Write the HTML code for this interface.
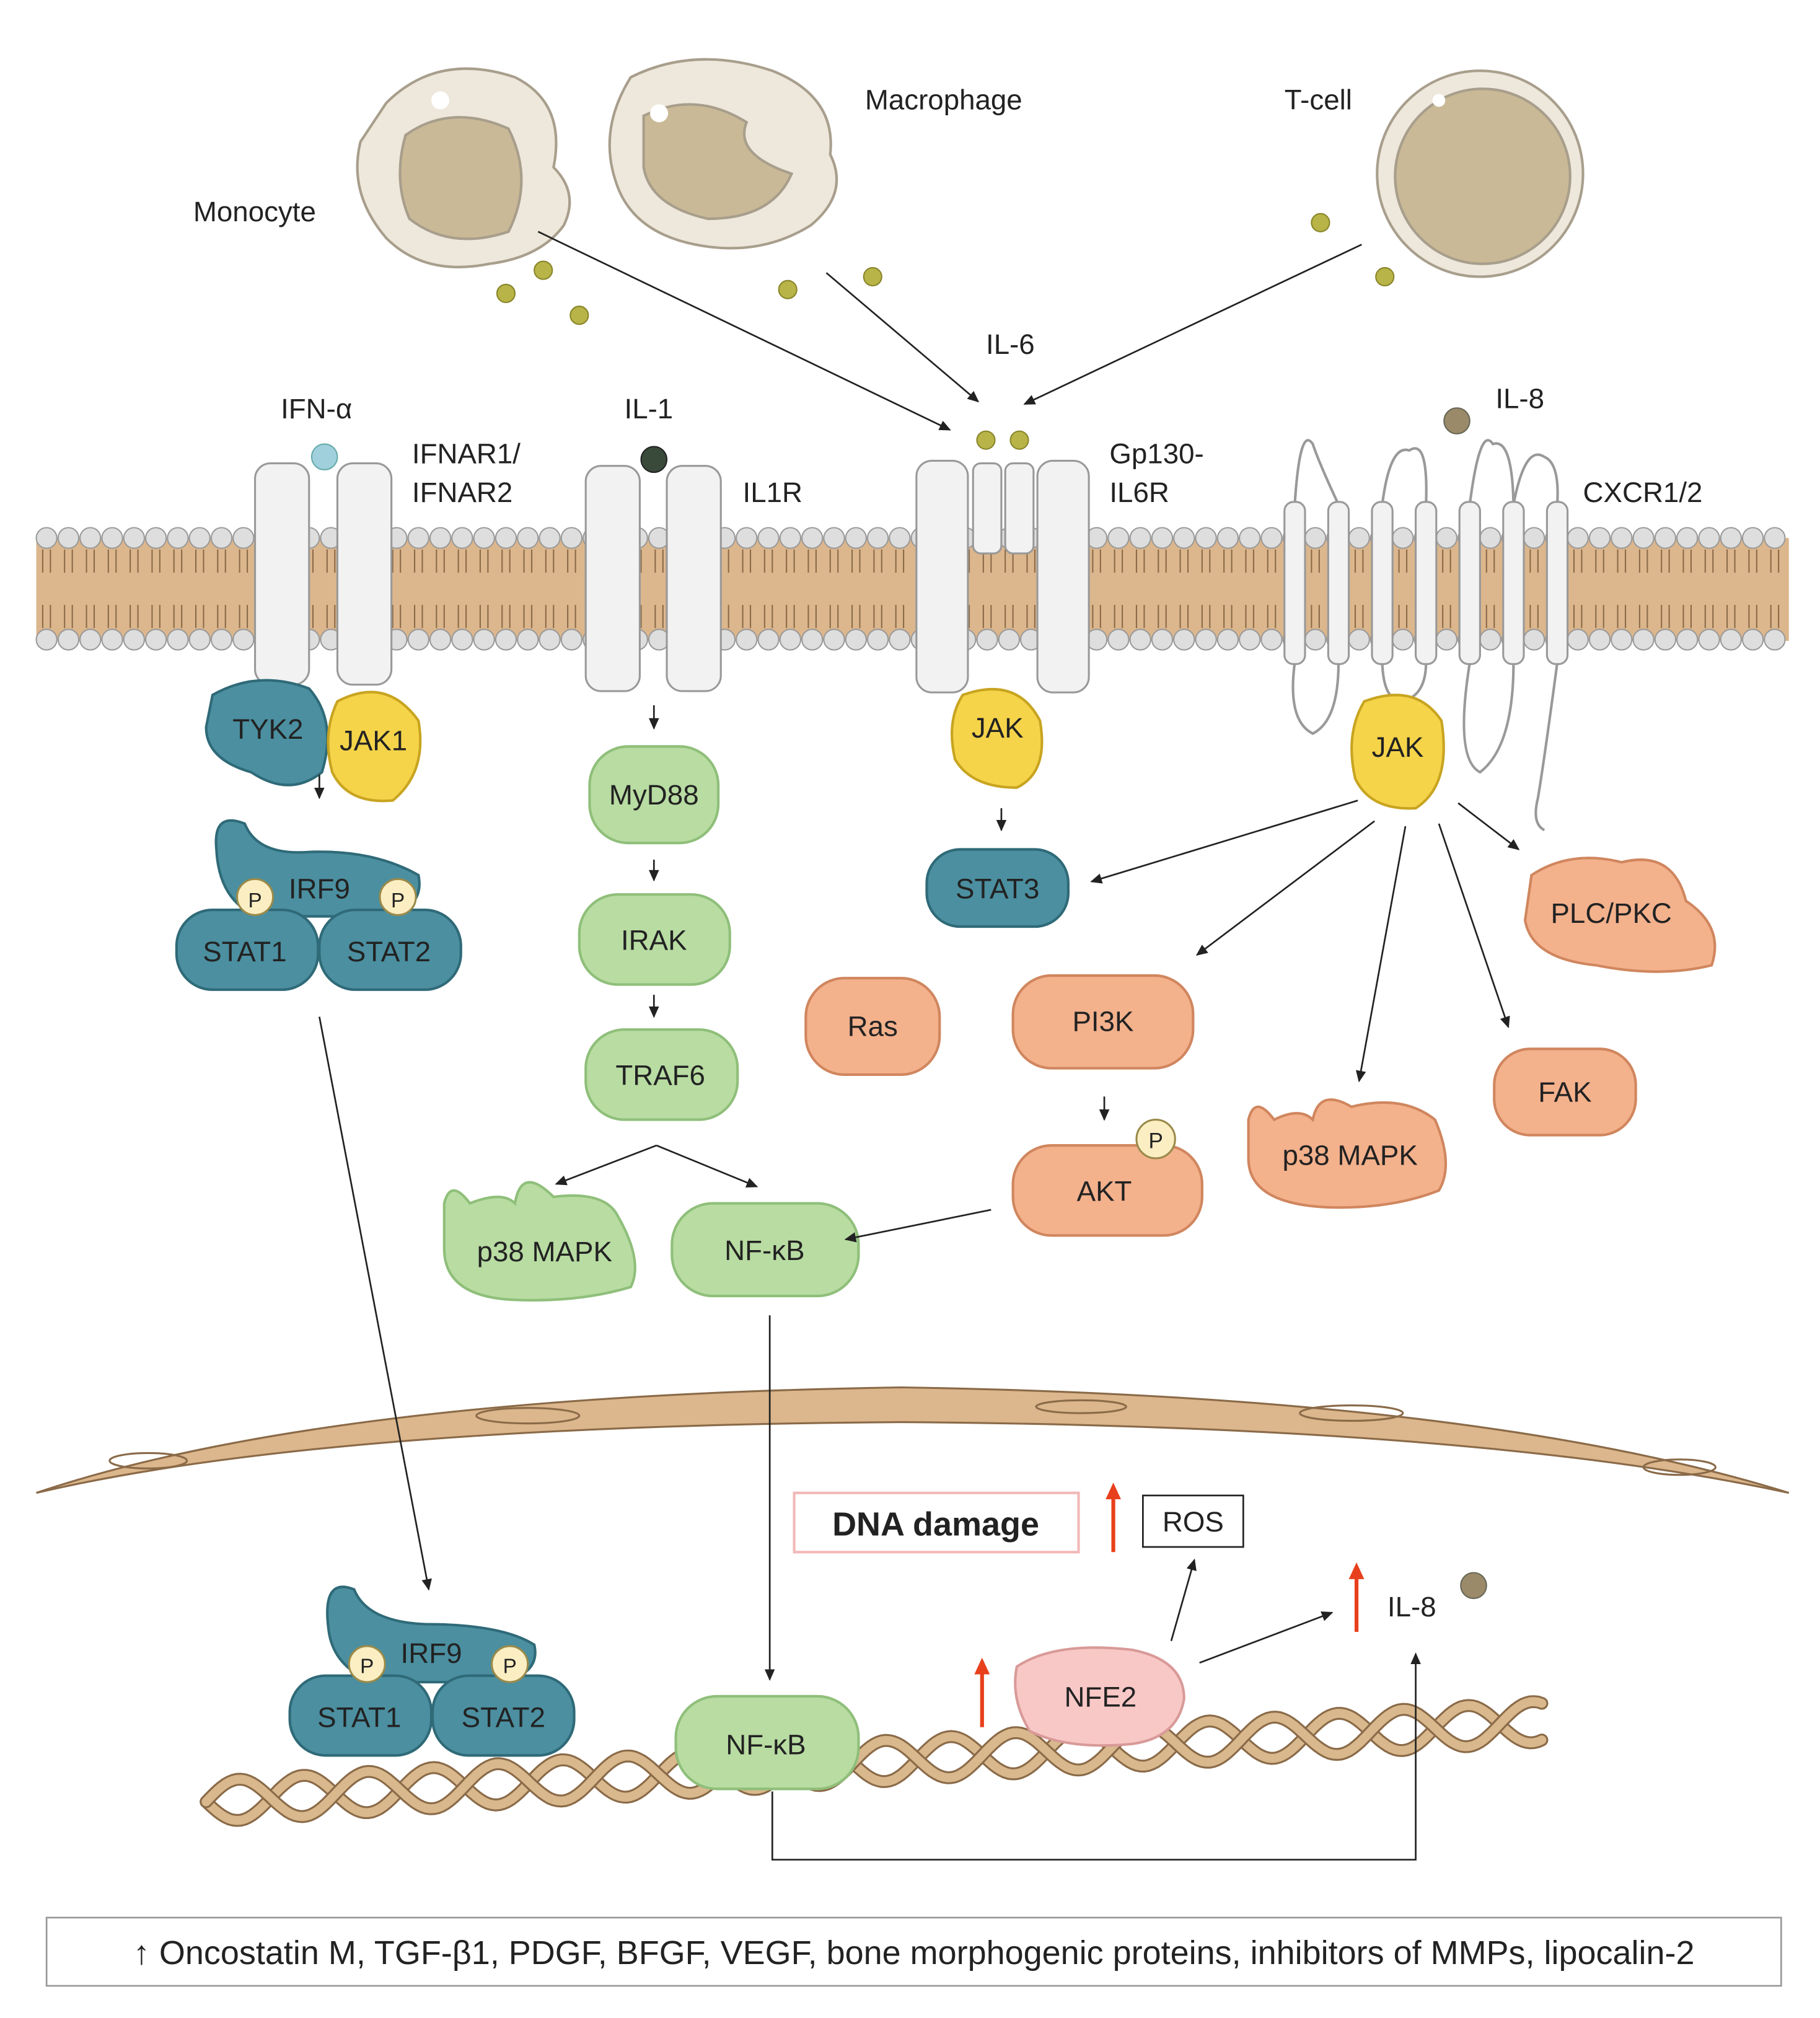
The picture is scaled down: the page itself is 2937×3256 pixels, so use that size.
<!DOCTYPE html>
<html><head><meta charset="utf-8"><style>
html,body{margin:0;padding:0;background:#fff;}
svg{display:block;}
text{font-family:"Liberation Sans",Arial,sans-serif;fill:#222;}
</style></head><body>
<svg id="root" width="2937" height="3256" viewBox="0 0 1414 1568" xmlns="http://www.w3.org/2000/svg">
<defs>
<marker id="ar" markerWidth="10" markerHeight="10" refX="8" refY="5" orient="auto" markerUnits="userSpaceOnUse"><path d="M0,1 L9,5 L0,9 Z" fill="#222"/></marker>
<marker id="rr" markerWidth="14" markerHeight="14" refX="7" refY="7" orient="auto" markerUnits="userSpaceOnUse"><path d="M0,1 L13,7 L0,13 Z" fill="#e8401c"/></marker>
</defs>

<!-- membrane -->
<rect x="28" y="418" width="1362" height="80" fill="#dcb68c"/>
<g id="lip"></g>

<!-- cells -->
<g stroke="#a89e8c" stroke-width="2">
<path d="M300,80 Q340,40 400,60 Q440,80 430,130 Q450,150 438,175 Q420,200 380,205 Q330,215 300,185 Q270,150 280,110 Z" fill="#eee7db"/>
<path d="M315,105 Q350,80 395,100 Q415,140 395,180 Q350,195 318,170 Q305,140 315,105Z" fill="#c9b996"/>
<path d="M490,60 Q540,35 600,55 Q650,75 645,120 Q660,150 630,175 Q590,200 540,190 Q490,180 478,140 Q465,100 490,60Z" fill="#eee7db"/>
<path d="M500,90 Q540,70 580,95 Q570,120 615,135 Q600,170 550,170 Q505,160 500,130Z" fill="#c9b996"/>
<circle cx="1150" cy="135" r="80" fill="#eee7db"/>
<circle cx="1152" cy="137" r="68" fill="#c9b996"/>
</g>
<circle cx="342" cy="78" r="7" fill="#fff"/><circle cx="512" cy="88" r="7" fill="#fff"/><circle cx="1118" cy="78" r="5" fill="#fff"/>
<g fill="#b8b447" stroke="#88852a" stroke-width="1">
<circle cx="393" cy="228" r="7"/><circle cx="422" cy="210" r="7"/><circle cx="450" cy="245" r="7"/>
<circle cx="612" cy="225" r="7"/><circle cx="678" cy="215" r="7"/>
<circle cx="1026" cy="173" r="7"/><circle cx="1076" cy="215" r="7"/>
<circle cx="766" cy="342" r="7"/><circle cx="792" cy="342" r="7"/>
</g>
<text x="150" y="172" font-size="22">Monocyte</text>
<text x="672" y="85" font-size="22">Macrophage</text>
<text x="998" y="85" font-size="22">T-cell</text>
<text x="766" y="275" font-size="22">IL-6</text>
<g stroke="#222" stroke-width="1.3" fill="none" marker-end="url(#ar)">
<line x1="418" y1="180" x2="738" y2="334"/><line x1="642" y1="212" x2="760" y2="312"/><line x1="1058" y1="190" x2="796" y2="314"/>
</g>

<!-- receptors -->
<g fill="#f2f2f2" stroke="#999" stroke-width="1.5">
<rect x="198" y="360" width="42" height="172" rx="12"/><rect x="262" y="360" width="42" height="172" rx="12"/>
<rect x="455" y="362" width="42" height="175" rx="12"/><rect x="518" y="362" width="42" height="175" rx="12"/>
<rect x="712" y="358" width="40" height="180" rx="12"/><rect x="806" y="358" width="40" height="180" rx="12"/>
<rect x="756" y="360" width="22" height="70" rx="6"/><rect x="781" y="360" width="22" height="70" rx="6"/>
</g>
<circle cx="252" cy="355" r="10" fill="#9fd0dc" stroke="#6aa" />
<circle cx="508" cy="357" r="10" fill="#3a4a3a" stroke="#222"/>
<circle cx="1132" cy="327" r="10" fill="#9a8a6a" stroke="#665"/>
<g fill="none" stroke="#999" stroke-width="2">
<path d="M1006,392 Q1010,330 1020,345 Q1025,360 1040,392"/>
<path d="M1074,392 Q1080,345 1095,350 Q1110,340 1108,392"/>
<path d="M1142,392 Q1150,330 1160,345 Q1175,340 1176,392"/>
<path d="M1176,392 Q1185,345 1200,355 Q1212,360 1210,392"/>
<path d="M1006,515 Q1000,560 1020,570 Q1040,560 1040,515"/>
<path d="M1074,515 Q1075,545 1090,545 Q1108,540 1108,515"/>
<path d="M1142,515 Q1130,590 1150,600 Q1176,580 1176,515"/>
<path d="M1210,515 Q1200,590 1195,620 Q1190,640 1200,645"/>
</g>
<g fill="#f2f2f2" stroke="#999" stroke-width="1.5">
<rect x="998" y="390" width="16" height="126" rx="7"/><rect x="1032" y="390" width="16" height="126" rx="7"/><rect x="1066" y="390" width="16" height="126" rx="7"/><rect x="1100" y="390" width="16" height="126" rx="7"/><rect x="1134" y="390" width="16" height="126" rx="7"/><rect x="1168" y="390" width="16" height="126" rx="7"/><rect x="1202" y="390" width="16" height="126" rx="7"/>
</g>
<g font-size="22">
<text x="218" y="325">IFN-α</text><text x="320" y="360">IFNAR1/</text><text x="320" y="390">IFNAR2</text>
<text x="485" y="325">IL-1</text><text x="577" y="390">IL1R</text>
<text x="862" y="360">Gp130-</text><text x="862" y="390">IL6R</text>
<text x="1162" y="317">IL-8</text><text x="1230" y="390">CXCR1/2</text>
</g>

<!-- nuclear envelope -->
<path d="M28,1160 Q250,1085 700,1078 Q1150,1085 1390,1160 Q1150,1108 700,1105 Q250,1108 28,1160Z" fill="#dcb68c" stroke="#8a6a48" stroke-width="1.5"/>
<g fill="none" stroke="#8a6a48" stroke-width="1.5">
<ellipse cx="115" cy="1135" rx="30" ry="6"/><ellipse cx="410" cy="1100" rx="40" ry="6"/><ellipse cx="840" cy="1093" rx="35" ry="5"/><ellipse cx="1050" cy="1098" rx="40" ry="6"/><ellipse cx="1305" cy="1140" rx="28" ry="6"/>
</g>

<!-- DNA -->
<g fill="none" stroke-linecap="round">
<path id="h1o" d="" stroke="#8a6a48" stroke-width="10"/><path id="h1" d="" stroke="#d8b88c" stroke-width="7"/>
<path id="h2o" d="" stroke="#8a6a48" stroke-width="10"/><path id="h2" d="" stroke="#d8b88c" stroke-width="7"/>
</g>

<!-- proteins -->
<g stroke-width="2">
<path d="M165,540 Q200,520 240,535 Q262,560 250,600 Q225,620 195,600 Q160,590 160,565Z" fill="#4b8fa0" stroke="#2f6a78"/>
<path d="M262,545 Q300,525 325,560 Q332,600 305,622 Q270,625 258,600 Q250,570 262,545Z" fill="#f5d44a" stroke="#c8a420"/>
<path d="M168,660 Q165,630 190,640 Q200,665 240,662 Q290,660 325,680 Q330,705 300,712 L200,712 Q170,700 168,660Z" fill="#4b8fa0" stroke="#2f6a78"/>
<rect x="137" y="707" width="110" height="62" rx="28" fill="#4b8fa0" stroke="#2f6a78"/>
<rect x="248" y="707" width="110" height="62" rx="28" fill="#4b8fa0" stroke="#2f6a78"/>
<path d="M748,540 Q790,525 808,560 Q815,600 790,612 Q755,612 742,590 Q735,560 748,540Z" fill="#f5d44a" stroke="#c8a420"/>
<rect x="720" y="660" width="110" height="60" rx="26" fill="#4b8fa0" stroke="#2f6a78"/>
<path d="M1060,545 Q1100,530 1120,560 Q1128,610 1100,628 Q1065,630 1053,605 Q1045,570 1060,545Z" fill="#f5d44a" stroke="#c8a420"/>
<g fill="#b8dca2" stroke="#8fbf7a">
<rect x="458" y="580" width="100" height="75" rx="30"/>
<rect x="450" y="695" width="117" height="70" rx="30"/>
<rect x="455" y="800" width="118" height="70" rx="30"/>
<path d="M345,935 Q350,915 365,935 Q390,925 400,935 Q405,905 430,930 Q470,925 480,945 Q500,980 490,1000 Q450,1012 400,1010 Q345,1008 345,970Z"/>
<rect x="522" y="935" width="145" height="72" rx="32"/>
<rect x="525" y="1318" width="142" height="72" rx="32"/>
</g>
<g fill="#f3b18c" stroke="#d0865e">
<path d="M1190,680 Q1220,660 1260,670 Q1300,660 1310,700 Q1340,720 1330,750 Q1290,760 1240,750 Q1190,745 1185,715Z"/>
<rect x="626" y="760" width="104" height="75" rx="30"/>
<rect x="787" y="758" width="140" height="72" rx="30"/>
<rect x="787" y="890" width="147" height="70" rx="30"/>
<path d="M970,870 Q975,850 990,870 Q1010,860 1020,870 Q1025,845 1050,860 Q1090,850 1115,870 Q1130,905 1118,925 Q1080,940 1030,938 Q970,935 970,900Z"/>
<rect x="1161" y="815" width="110" height="67" rx="28"/>
</g>
<path d="M790,1295 Q820,1275 880,1282 Q920,1290 920,1320 Q915,1350 880,1355 Q830,1360 800,1345 Q785,1320 790,1295Z" fill="#f8c8c6" stroke="#d89a98"/>
<path d="M255,1265 Q250,1225 275,1235 Q285,1260 330,1262 Q390,1262 415,1278 Q420,1300 390,1307 L290,1307 Q258,1295 255,1265Z" fill="#4b8fa0" stroke="#2f6a78"/>
<rect x="225" y="1302" width="110" height="62" rx="28" fill="#4b8fa0" stroke="#2f6a78"/>
<rect x="336" y="1302" width="110" height="62" rx="28" fill="#4b8fa0" stroke="#2f6a78"/>
</g>
<g fill="#fbeec2" stroke="#9a8a4a" stroke-width="1.5">
<circle cx="198" cy="697" r="14"/><circle cx="309" cy="697" r="14"/><circle cx="898" cy="885" r="15"/>
<circle cx="285" cy="1293" r="14"/><circle cx="396" cy="1293" r="14"/>
</g>
<g font-size="22" text-anchor="middle">
<text x="208" y="574">TYK2</text><text x="290" y="583">JAK1</text>
<text x="248" y="698">IRF9</text><text x="198" y="705" font-size="16">P</text><text x="309" y="705" font-size="16">P</text>
<text x="190" y="747">STAT1</text><text x="302" y="747">STAT2</text>
<text x="508" y="625">MyD88</text><text x="508" y="738">IRAK</text><text x="513" y="843">TRAF6</text>
<text x="423" y="980">p38 MAPK</text><text x="594" y="979">NF-κB</text>
<text x="775" y="573">JAK</text><text x="775" y="698">STAT3</text><text x="1086" y="588">JAK</text>
<text x="1252" y="717">PLC/PKC</text><text x="678" y="805">Ras</text><text x="857" y="801">PI3K</text>
<text x="858" y="933">AKT</text><text x="898" y="892" font-size="17">P</text>
<text x="1049" y="905">p38 MAPK</text><text x="1216" y="856">FAK</text>
<text x="335" y="1292">IRF9</text><text x="285" y="1300" font-size="16">P</text><text x="396" y="1300" font-size="16">P</text>
<text x="279" y="1342">STAT1</text><text x="391" y="1342">STAT2</text>
<text x="595" y="1363">NF-κB</text><text x="855" y="1326">NFE2</text>
</g>

<!-- arrows -->
<g stroke="#222" stroke-width="1.3" fill="none" marker-end="url(#ar)">
<line x1="248" y1="602" x2="248" y2="620"/><line x1="508" y1="548" x2="508" y2="566"/><line x1="508" y1="668" x2="508" y2="684"/><line x1="508" y1="773" x2="508" y2="790"/>
<line x1="778" y1="628" x2="778" y2="645"/><line x1="858" y1="852" x2="858" y2="870"/>
<line x1="510" y1="890" x2="432" y2="920"/><line x1="510" y1="890" x2="588" y2="922"/>
<line x1="770" y1="940" x2="657" y2="963"/>
<line x1="1055" y1="622" x2="848" y2="685"/><line x1="1068" y1="638" x2="930" y2="742"/><line x1="1092" y1="642" x2="1056" y2="840"/><line x1="1118" y1="640" x2="1172" y2="798"/><line x1="1133" y1="624" x2="1180" y2="660"/>
<line x1="248" y1="790" x2="333" y2="1235"/>
<line x1="598" y1="1022" x2="598" y2="1305"/>
<line x1="910" y1="1275" x2="928" y2="1212"/><line x1="932" y1="1292" x2="1035" y2="1253"/>
<polyline points="600,1392 600,1445 1100,1445 1100,1285"/>
</g>

<!-- DNA damage, ROS -->
<rect x="617" y="1160" width="221" height="46" fill="#fff" stroke="#f2b8b8" stroke-width="2"/>
<text x="727" y="1193" font-size="26" font-weight="bold" text-anchor="middle">DNA damage</text>
<rect x="888" y="1162" width="78" height="40" fill="#fff" stroke="#222" stroke-width="1.3"/>
<text x="927" y="1190" font-size="22" text-anchor="middle">ROS</text>
<g stroke="#e8401c" stroke-width="3" marker-end="url(#rr)">
<line x1="865" y1="1206" x2="865" y2="1158"/><line x1="1054" y1="1268" x2="1054" y2="1220"/><line x1="763" y1="1342" x2="763" y2="1294"/>
</g>
<text x="1078" y="1256" font-size="22">IL-8</text>
<circle cx="1145" cy="1232" r="10" fill="#9a8a6a" stroke="#665"/>

<!-- bottom box -->
<rect x="36" y="1490" width="1348" height="53" fill="#fff" stroke="#999" stroke-width="1.3"/>
<text x="710" y="1526" font-size="26" text-anchor="middle">↑ Oncostatin M, TGF-β1, PDGF, BFGF, VEGF, bone morphogenic proteins, inhibitors of MMPs, lipocalin-2</text>
<script>
(function(){
var NS='http://www.w3.org/2000/svg';var g=document.getElementById('lip');
function el(n,a){var e=document.createElementNS(NS,n);for(var k in a)e.setAttribute(k,a[k]);g.appendChild(e);}
for(var x=36;x<1390;x+=17){
el('path',{d:'M'+(x-3)+' 427 v18 M'+(x+3)+' 427 v18 M'+(x-3)+' 470 v18 M'+(x+3)+' 470 v18',stroke:'#8a6a48','stroke-width':'1',fill:'none'});
el('circle',{cx:x,cy:418,r:8,fill:'#dedede',stroke:'#9a9a9a','stroke-width':'1'});
el('circle',{cx:x,cy:497,r:8,fill:'#dedede',stroke:'#9a9a9a','stroke-width':'1'});
}
var a='',b='';for(var x=160;x<=1200;x+=3){var t=(x-160)/16;var base=1400-(x-160)*0.06;var y1=base+16*Math.sin(t),y2=base-16*Math.sin(t);a+=(x==160?'M':'L')+x+','+y1.toFixed(1);b+=(x==160?'M':'L')+x+','+y2.toFixed(1);}
['h1','h1o'].forEach(function(i){document.getElementById(i).setAttribute('d',a);});
['h2','h2o'].forEach(function(i){document.getElementById(i).setAttribute('d',b);});
})();
</script>
</svg>
</body></html>
